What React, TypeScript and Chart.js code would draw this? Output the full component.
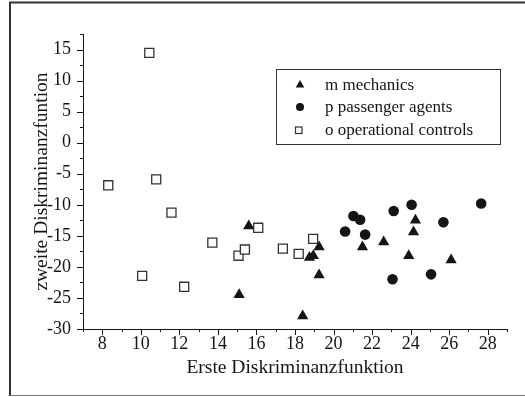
import React, { useEffect, useRef } from 'react';
import { Chart, registerables } from 'chart.js';

Chart.register(...registerables);

// Data
const mechX = [15.6, 15.1, 18.4, 18.75, 18.95, 19.25, 19.25, 21.5, 22.6, 23.9, 24.15, 24.25, 26.1];
const mechY = [-13.4, -24.5, -27.9, -18.5, -18.2, -16.8, -21.3, -16.8, -16.0, -18.2, -14.4, -12.5, -18.9];

const passX = [20.6, 21.03, 21.38, 21.64, 23.12, 24.05, 23.06, 25.06, 25.7, 27.66];
const passY = [-14.3, -11.8, -12.4, -14.8, -11.0, -10.0, -22.0, -21.2, -12.8, -9.8];

const opX = [10.44, 8.31, 10.8, 11.59, 13.71, 10.07, 12.25, 15.07, 15.4, 16.09, 17.37, 18.19, 18.94];
const opY = [14.45, -6.86, -5.9, -11.27, -16.1, -21.45, -23.2, -18.2, -17.2, -13.7, -17.06, -17.9, -15.5];

const seriesLabels = ['m mechanics', 'p passenger agents', 'o operational controls'];
const xTitle = 'Erste Diskriminanzfunktion';
const yTitle = 'zweite Diskriminanzfuntion';
const xMin = 7, xMax = 29, xMajor = 2;
const yMin = -30, yMax = 17.5, yMajor = 5;

const INK = '#151515';
const FONT = "'Liberation Serif', 'DejaVu Serif', serif";

function pts(xs: number[], ys: number[]) {
  return xs.map((x, i) => ({ x, y: ys[i] }));
}

const tickPlugin = {
  id: 'minorTicks',
  afterDraw(chart: any) {
    const ctx = chart.ctx;
    const xs = chart.scales.x;
    const ys = chart.scales.y;
    const area = chart.chartArea;
    ctx.save();
    ctx.strokeStyle = INK;
    ctx.lineWidth = 1;
    ctx.beginPath();
    ys.ticks.forEach((t: any) => {
      const py = Math.round(ys.getPixelForValue(t.value)) + 0.5;
      const major = Math.abs(t.value % yMajor) < 1e-9;
      const len = major ? 6 : 3;
      ctx.moveTo(area.left, py);
      ctx.lineTo(area.left - len, py);
    });
    xs.ticks.forEach((t: any) => {
      const px = Math.round(xs.getPixelForValue(t.value)) + 0.5;
      const major = Math.abs(t.value % xMajor) < 1e-9;
      const len = major ? 6 : 3;
      ctx.moveTo(px, area.bottom);
      ctx.lineTo(px, area.bottom + len);
    });
    ctx.stroke();

    // outer frame
    ctx.strokeStyle = '#333';
    ctx.lineWidth = 2;
    ctx.beginPath();
    ctx.moveTo(10, 396);
    ctx.lineTo(10, 2.5);
    ctx.lineTo(530, 2.5);
    ctx.stroke();
    ctx.strokeStyle = '#777';
    ctx.lineWidth = 1;
    ctx.beginPath();
    ctx.moveTo(10, 395.5);
    ctx.lineTo(530, 395.5);
    ctx.stroke();

    // legend
    ctx.strokeStyle = '#333';
    ctx.lineWidth = 1;
    ctx.strokeRect(276.5, 69.5, 224, 75);
    const rows = [85, 107, 130];
    ctx.font = `17px ${FONT}`;
    ctx.textBaseline = 'middle';
    ctx.textAlign = 'left';
    seriesLabels.forEach((lab, i) => {
      const y = rows[i];
      const mx = 300;
      ctx.fillStyle = INK;
      ctx.strokeStyle = INK;
      if (i === 0) {
        const r = 5;
        ctx.beginPath();
        ctx.moveTo(mx, y - r);
        ctx.lineTo(mx + r * 0.866, y + r / 2);
        ctx.lineTo(mx - r * 0.866, y + r / 2);
        ctx.closePath();
        ctx.fill();
      } else if (i === 1) {
        ctx.beginPath();
        ctx.arc(mx, y, 4, 0, Math.PI * 2);
        ctx.fill();
      } else {
        ctx.fillStyle = '#fff';
        ctx.lineWidth = 1.2;
        ctx.strokeStyle = '#333';
        ctx.fillRect(295.5, y - 3, 6.5, 6.5);
        ctx.strokeRect(295.5, y - 3, 6.5, 6.5);
      }
      ctx.fillStyle = INK;
      ctx.fillText(lab, 325, y + 0.5);
    });
    ctx.restore();
  },
};

export default function App() {
  const ref = useRef<HTMLCanvasElement | null>(null);
  useEffect(() => {
    document.body.style.margin = '0';
    const canvas = ref.current;
    if (!canvas) return;
    const chart = new Chart(canvas, {
      type: 'scatter',
      data: {
        datasets: [
          {
            label: seriesLabels[0],
            data: pts(mechX, mechY),
            pointStyle: 'triangle',
            pointRadius: 6.5,
            backgroundColor: INK,
            borderColor: INK,
            borderWidth: 0,
            order: 2,
          },
          {
            label: seriesLabels[1],
            data: pts(passX, passY),
            pointStyle: 'circle',
            pointRadius: 5.3,
            backgroundColor: INK,
            borderColor: INK,
            borderWidth: 0,
            order: 3,
          },
          {
            label: seriesLabels[2],
            data: pts(opX, opY),
            pointStyle: 'rect',
            pointRadius: 6.4,
            backgroundColor: '#fff',
            borderColor: '#333',
            borderWidth: 1.3,
            order: 1,
          },
        ],
      },
      options: {
        responsive: false,
        animation: false,
        devicePixelRatio: 1,
        layout: { padding: { left: 0, top: 34, right: 18, bottom: 0 } },
        plugins: { legend: { display: false }, tooltip: { enabled: false } },
        scales: {
          x: {
            type: 'linear',
            min: xMin,
            max: xMax,
            grid: { display: false },
            border: { display: true, color: INK, width: 1 },
            ticks: {
              stepSize: 1,
              autoSkip: false,
              maxRotation: 0,
              padding: -4,
              color: INK,
              font: { family: FONT, size: 18 },
              callback: (v: any) => (Number(v) % xMajor === 0 ? String(v) : ''),
            },
            title: {
              display: true,
              text: xTitle,
              color: INK,
              font: { family: FONT, size: 19.5 },
              padding: { top: 0, bottom: 17 },
            },
            afterFit: (s: any) => {
              s.height = 68;
              s.paddingLeft = 0; s.paddingRight = 0; s.paddingTop = 0; s.paddingBottom = 0;
            },
          },
          y: {
            type: 'linear',
            min: yMin,
            max: yMax,
            grid: { display: false },
            border: { display: true, color: INK, width: 1 },
            ticks: {
              stepSize: 2.5,
              autoSkip: false,
              padding: 4,
              color: INK,
              font: { family: FONT, size: 18 },
              callback: (v: any) => (Math.abs(Number(v) % yMajor) < 1e-9 ? String(v) : ''),
            },
            title: {
              display: true,
              text: yTitle,
              color: INK,
              font: { family: FONT, size: 19.5 },
              padding: { top: 30, bottom: 0 },
            },
            afterFit: (s: any) => {
              s.width = 83;
              s.paddingLeft = 0; s.paddingRight = 0; s.paddingTop = 0; s.paddingBottom = 0;
            },
          },
        },
      },
      plugins: [tickPlugin],
    });
    return () => chart.destroy();
  }, []);
  return (
    <div style={{ width: 525, height: 397, position: 'relative' }}>
      <canvas ref={ref} width={525} height={397} style={{ display: 'block' }} />
    </div>
  );
}
